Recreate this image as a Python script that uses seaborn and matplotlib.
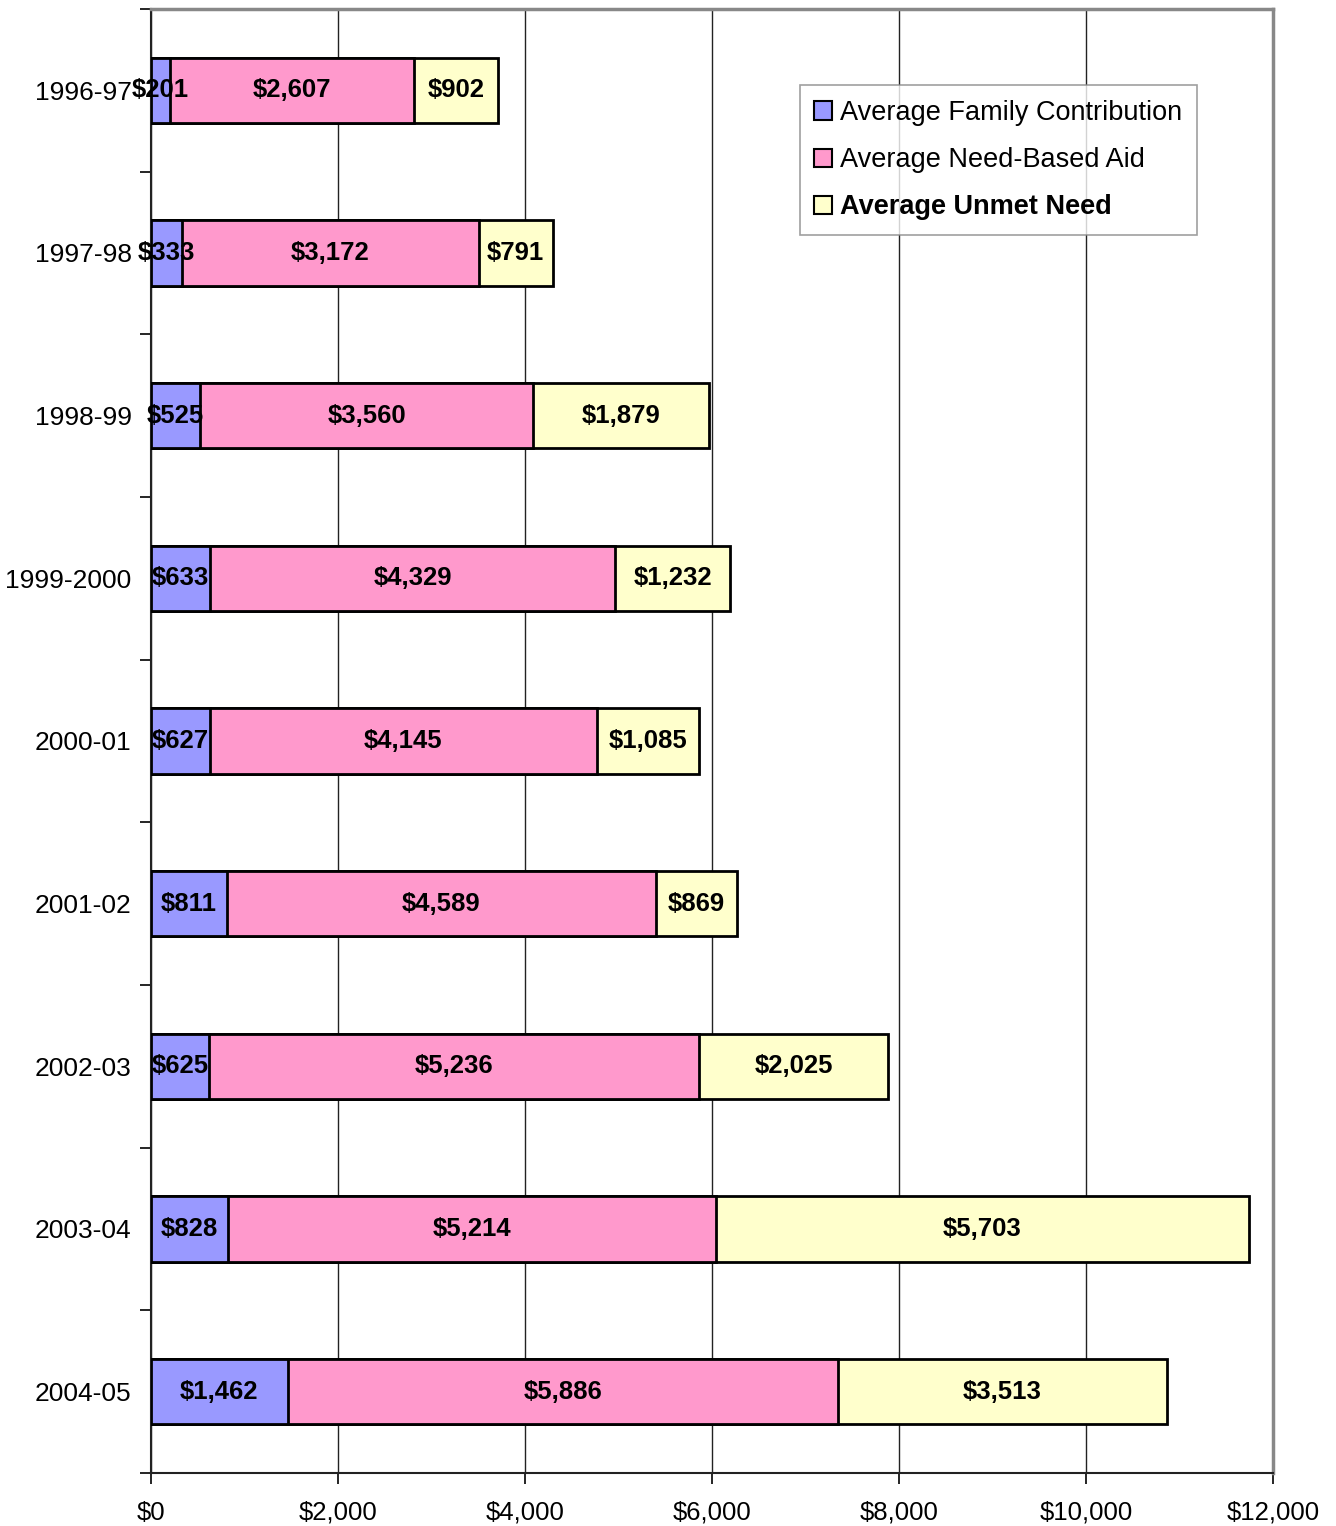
import pandas as pd
import matplotlib
matplotlib.use("Agg")
import matplotlib.pyplot as plt
from matplotlib.patches import Patch
from matplotlib.ticker import FixedLocator
import seaborn as sns

years = ["1996-97", "1997-98", "1998-99", "1999-2000", "2000-01",
         "2001-02", "2002-03", "2003-04", "2004-05"]
family = [201, 333, 525, 633, 627, 811, 625, 828, 1462]
need_aid = [2607, 3172, 3560, 4329, 4145, 4589, 5236, 5214, 5886]
unmet = [902, 791, 1879, 1232, 1085, 869, 2025, 5703, 3513]

series_names = ["Average Family Contribution", "Average Need-Based Aid", "Average Unmet Need"]
colors = ["#9999FF", "#FF99CC", "#FFFFCC"]
x_ticks = [0, 2000, 4000, 6000, 8000, 10000, 12000]

plt.rcParams['font.family'] = ['Liberation Sans', 'DejaVu Sans']

df = pd.DataFrame({"year": years, "family": family, "aid": need_aid, "unmet": unmet})
df["fa"] = df["family"] + df["aid"]
df["total"] = df["fa"] + df["unmet"]

fig = plt.figure(figsize=(13.36, 15.26), dpi=100)
ax = fig.add_axes([151 / 1336, 1 - 1473 / 1526, 1122 / 1336, 1464 / 1526])

# stacked look: draw cumulative totals from longest to shortest
for col, c in zip(["total", "fa", "family"], colors[::-1]):
    sns.barplot(data=df, y="year", x=col, order=years, color=c, width=0.4,
                edgecolor="black", linewidth=2, saturation=1, ax=ax, zorder=3)

# centered value labels in each segment
for i, row in df.iterrows():
    lefts = [0, row["family"], row["fa"]]
    widths = [row["family"], row["aid"], row["unmet"]]
    for l, w in zip(lefts, widths):
        ax.text(l + w / 2, i, f"${w:,}", ha="center", va="center",
                fontsize=18.5, fontweight="bold", zorder=5)

ax.set_xlim(0, 12000)
ax.set_ylim(len(years) - 0.5, -0.5)
ax.set_xticks(x_ticks)
ax.set_xticklabels([f"${v:,}" for v in x_ticks], fontsize=18.5)
ax.tick_params(axis="x", length=8, width=1.2, pad=12, direction="out")
ax.tick_params(axis="y", which="major", length=0, pad=14, labelsize=19)
ax.yaxis.set_minor_locator(FixedLocator([k - 0.5 for k in range(len(years) + 1)]))
ax.tick_params(axis="y", which="minor", length=8, width=1.2, direction="out")
ax.set_xlabel("")
ax.set_ylabel("")

ax.grid(axis="x", color="#222222", linewidth=1, zorder=0)
ax.set_axisbelow(True)
for s in ["left", "bottom"]:
    ax.spines[s].set_color("#222222")
    ax.spines[s].set_linewidth(1.5)
for s in ["top", "right"]:
    ax.spines[s].set_color("#888888")
    ax.spines[s].set_linewidth(2.5)

handles = [Patch(facecolor=c, edgecolor="black", linewidth=1.5) for c in colors]
leg = ax.legend(handles, series_names, loc="upper left",
                bbox_to_anchor=(0.578, 0.948), borderaxespad=0, fontsize=19.5,
                frameon=True, fancybox=False, edgecolor="#888888",
                handlelength=0.65, handleheight=0.65, handletextpad=0.3,
                labelspacing=0.78, borderpad=0.55)
leg.get_frame().set_linewidth(1.2)
leg.get_texts()[2].set_fontweight("bold")

fig.savefig("out.png", dpi=100)
